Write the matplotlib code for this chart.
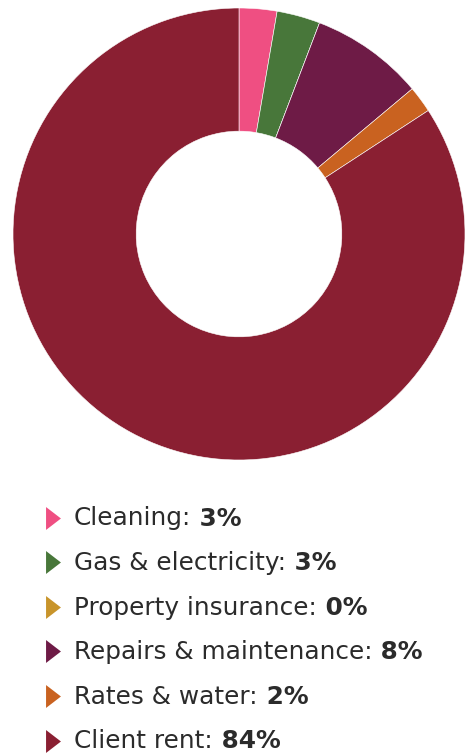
import matplotlib.pyplot as plt

# Cost breakdown data
labels = ["Cleaning", "Gas & electricity", "Property insurance",
          "Repairs & maintenance", "Rates & water", "Client rent"]
shares = [2.7, 3.1, 0.0, 8.1, 1.9, 84.2]
pct_labels = ["3%", "3%", "0%", "8%", "2%", "84%"]
colors = ["#EF4F82", "#48773A", "#C8942B", "#6E1B46", "#C96220", "#8A1F32"]

W, H = 467, 755
fig = plt.figure(figsize=(W / 100, H / 100), dpi=100)

# donut
cx, cy, r = 239, 234, 226
ax = fig.add_axes([(cx - r) / W, (H - cy - r) / H, 2 * r / W, 2 * r / H])
ax.pie(shares, colors=colors, startangle=90, counterclock=False, radius=1,
       wedgeprops=dict(width=0.545, edgecolor="white", linewidth=0.4))
ax.set_xlim(-1, 1)
ax.set_ylim(-1, 1)
ax.set_aspect("equal")
ax.axis("off")

# legend
lax = fig.add_axes([0, 0, 1, 1])
lax.set_xlim(0, W)
lax.set_ylim(H, 0)
lax.axis("off")
tri = [(-0.65, -1), (0.65, 0), (-0.65, 1), (-0.65, -1)]
y0, dy = 517.5, 44.6
fs = 17.8
for i, (lab, pct, c) in enumerate(zip(labels, pct_labels, colors)):
    y = y0 + i * dy
    lax.plot(52.5, y, marker=tri, markersize=16.5, color=c,
             markeredgewidth=0, linestyle="none")
    t = lax.text(74, y + 8, lab + ":", fontsize=fs, family="DejaVu Sans",
                 color="#2b2b2b", va="baseline")
    lax.annotate(" " + pct, xy=(1, 0), xycoords=t, va="bottom", ha="left",
                 fontsize=fs, family="DejaVu Sans", fontweight="bold",
                 color="#2b2b2b")

fig.savefig("out.png", dpi=100)
